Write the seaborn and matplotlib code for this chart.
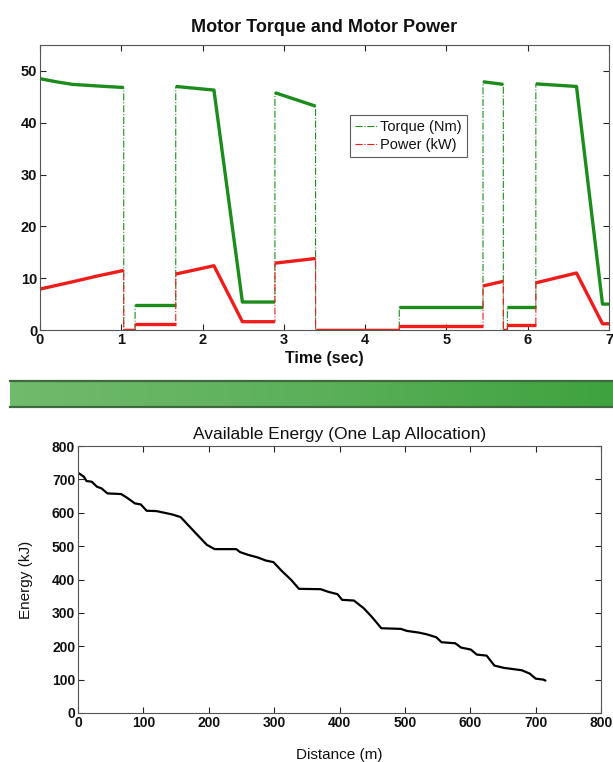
import numpy as np
import pandas as pd
import matplotlib
matplotlib.use("Agg")
import matplotlib.pyplot as plt
from matplotlib.colors import LinearSegmentedColormap
import seaborn as sns

# ---------------- data ----------------
time_s = [0.0, 0.0, 0.2, 0.4, 0.7, 1.03, 1.03, 1.17, 1.17, 1.67, 1.67, 2.14, 2.49, 2.89,
          2.89, 3.39, 3.39, 4.42, 4.42, 5.45, 5.45, 5.70, 5.70, 5.75, 5.75, 6.10,
          6.10, 6.60, 6.92, 7.0]
torque_nm = [0.0, 48.5, 47.9, 47.4, 47.1, 46.8, 0.0, 0.0, 4.8, 4.8, 47.0, 46.3, 5.4, 5.4,
             45.8, 43.2, 0.0, 0.0, 4.4, 4.4, 47.9, 47.4, 0.0, 0.0, 4.5, 4.5,
             47.5, 47.0, 5.0, 5.0]
power_kw = [0.0, 7.9, 8.6, 9.3, 10.4, 11.5, 0.0, 0.0, 1.1, 1.1, 10.8, 12.4, 1.6, 1.6,
            12.9, 13.8, 0.0, 0.0, 0.8, 0.8, 8.5, 9.4, 0.0, 0.0, 0.9, 0.9,
            9.1, 11.0, 1.2, 1.2]

distance_m = [0, 9, 13, 21, 29, 36, 45, 66, 75, 87, 96, 105, 120, 132, 144, 157, 168, 180,
              197, 209, 242, 248, 260, 275, 287, 299, 311, 326, 338, 371, 383, 397, 404,
              422, 437, 449, 464, 494, 503, 521, 533, 548, 556, 577, 586, 601, 610, 625,
              637, 652, 664, 679, 691, 700, 712, 715]
energy_kj = [720, 708, 695, 693, 678, 673, 658, 656, 645, 628, 625, 606, 605, 600, 595, 587,
             564, 539, 504, 491, 491, 482, 474, 466, 457, 452, 427, 399, 372, 371, 363, 356,
             339, 337, 314, 289, 254, 252, 246, 241, 236, 227, 212, 209, 196, 190, 175, 172,
             142, 135, 132, 128, 118, 103, 100, 97]

time_ticks = list(range(0, 8))
torque_ticks = [0, 10, 20, 30, 40, 50]
dist_ticks = list(range(0, 900, 100))
energy_ticks = list(range(0, 900, 100))

# ---------------- style ----------------
sns.set_style("ticks")
plt.rcParams["font.family"] = ["Liberation Sans", "DejaVu Sans"]
plt.rcParams.update({
    "xtick.direction": "in", "ytick.direction": "in",
    "xtick.top": True, "ytick.right": True,
    "xtick.major.size": 4, "ytick.major.size": 4,
    "axes.linewidth": 0.8, "axes.edgecolor": "#555555",
    "text.color": "#111111", "axes.labelcolor": "#111111",
    "xtick.labelcolor": "#111111", "ytick.labelcolor": "#111111",
})

GREEN = "#1c8c1c"
RED = "#f01c1c"

fig = plt.figure(figsize=(6.13, 7.62), dpi=100)

# ---------------- top chart ----------------
ax1 = fig.add_axes([40 / 613, 1 - 330 / 762, 569 / 613, 285 / 762])
df = pd.DataFrame({"t": time_s, "torque": torque_nm, "power": power_kw})

def runs(t):
    br = [0] + [i for i in range(1, len(t)) if t[i] == t[i - 1]] + [len(t)]
    return [(br[k], br[k + 1]) for k in range(len(br) - 1) if br[k + 1] - br[k] > 1]

for col, color, lab in [("torque", GREEN, "Torque (Nm)"), ("power", RED, "Power (kW)")]:
    sns.lineplot(data=df, x="t", y=col, sort=False, estimator=None, ax=ax1,
                 color=color, linestyle="-.", lw=0.8, label=lab)
    for a, b in runs(time_s):
        seg = df.iloc[a:b]
        sns.lineplot(data=seg, x="t", y=col, sort=False, estimator=None, ax=ax1,
                     color=color, lw=2.4, legend=False, solid_capstyle="butt")

ax1.set_xlim(0, 7)
ax1.set_ylim(0, 55)
ax1.set_xticks(time_ticks)
ax1.set_yticks(torque_ticks)
ax1.tick_params(labelsize=10.5, pad=2)
for lbl in ax1.get_xticklabels() + ax1.get_yticklabels():
    lbl.set_fontweight("bold")
ax1.set_xlabel("Time (sec)", fontsize=11.5, labelpad=3, fontweight="bold")
ax1.set_ylabel("")
ax1.set_title("Motor Torque and Motor Power", fontsize=13, pad=9, fontweight="bold")
leg = ax1.legend(loc="upper left", bbox_to_anchor=(0.545, 0.755), fontsize=10.5,
                 frameon=True, fancybox=False, edgecolor="#333333", handlelength=1.5,
                 handletextpad=0.2, borderpad=0.35, labelspacing=0.3, borderaxespad=0)
leg.get_frame().set_linewidth(0.8)

# ---------------- green band ----------------
axb = fig.add_axes([10 / 613, 1 - 407 / 762, 603 / 613, 26 / 762])
cmap = LinearSegmentedColormap.from_list("band", ["#70bb6c", "#5cb05a", "#3ea33e"])
axb.imshow(np.linspace(0, 1, 256)[None, :], aspect="auto", cmap=cmap,
           extent=(0, 1, 0, 1))
axb.set_xlim(0, 1)
axb.set_ylim(0, 1)
axb.set_xticks([])
axb.set_yticks([])
for s in ["left", "right"]:
    axb.spines[s].set_visible(False)
for s in ["top", "bottom"]:
    axb.spines[s].set_color("#3f6a3f")
    axb.spines[s].set_linewidth(1.6)

# ---------------- bottom chart ----------------
ax2 = fig.add_axes([78 / 613, 1 - 713 / 762, 523 / 613, 267 / 762])
de = pd.DataFrame({"d": distance_m, "e": energy_kj})
sns.lineplot(data=de, x="d", y="e", sort=False, estimator=None, ax=ax2,
             color="black", lw=1.6)
ax2.set_xlim(0, 800)
ax2.set_ylim(0, 800)
ax2.set_xticks(dist_ticks)
ax2.set_yticks(energy_ticks)
ax2.tick_params(labelsize=10, pad=2)
for lbl in ax2.get_xticklabels() + ax2.get_yticklabels():
    lbl.set_fontweight("bold")
ax2.set_xlabel("Distance (m)", fontsize=11, labelpad=13)
ax2.set_ylabel("Energy (kJ)", fontsize=11, labelpad=14)
ax2.set_title("Available Energy (One Lap Allocation)", fontsize=12.5, pad=5)

fig.savefig("out.png", dpi=100)
